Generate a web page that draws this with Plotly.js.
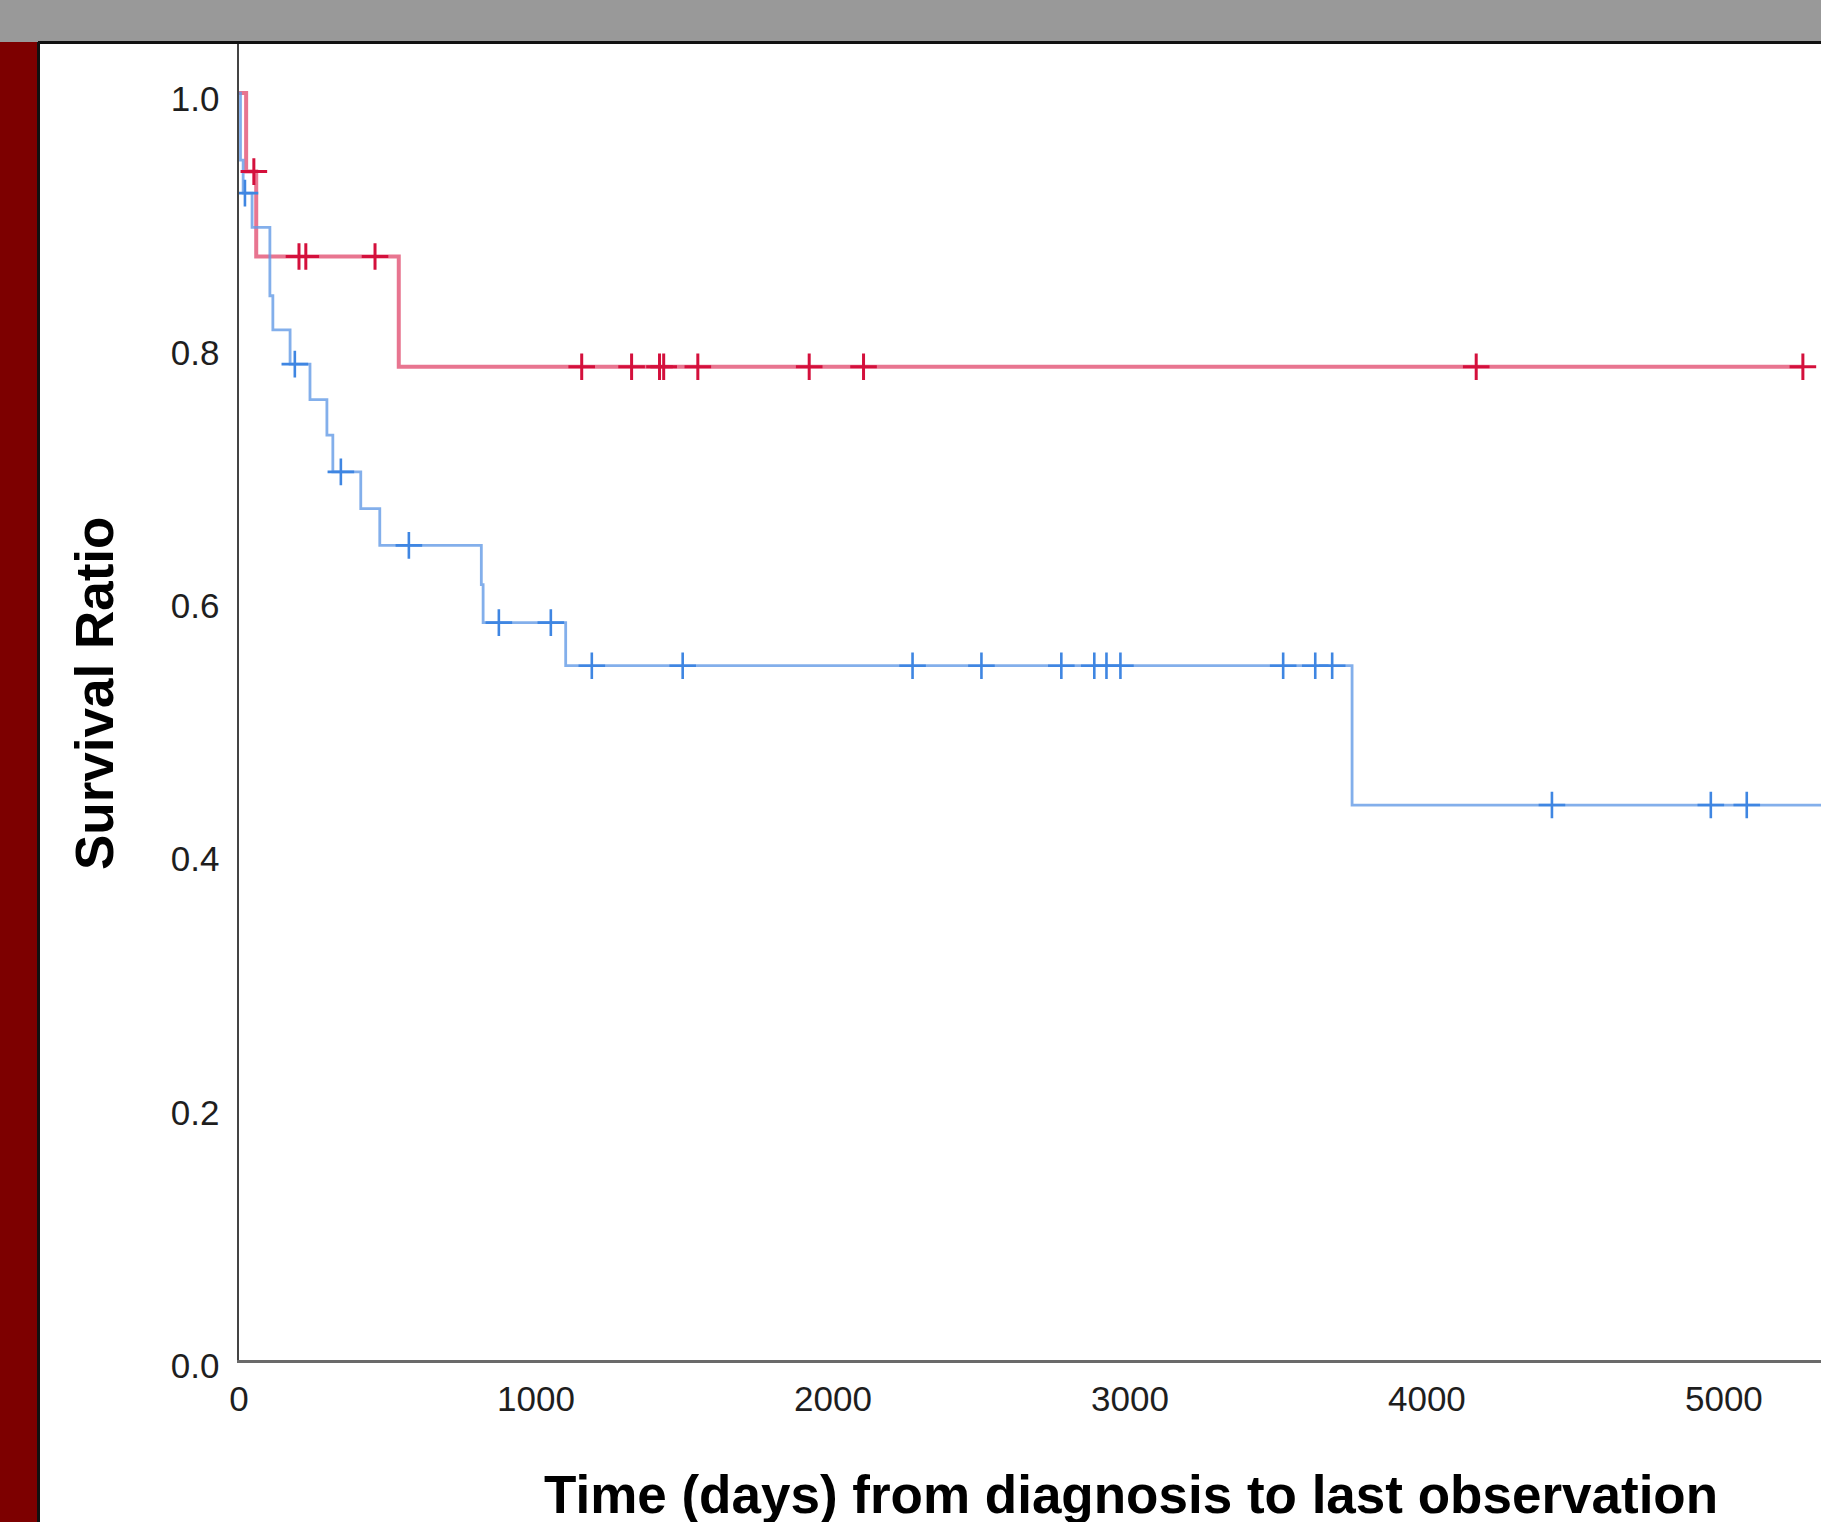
<!DOCTYPE html>
<html>
<head>
<meta charset="utf-8">
<script src="https://cdn.plot.ly/plotly-3.0.1.min.js"></script>
<style>
  html, body { margin: 0; padding: 0; width: 1821px; height: 1522px; overflow: hidden; background: #ffffff; }
  #topband { position: absolute; left: 0; top: 0; width: 1821px; height: 42px; background: #999999; }
  #leftband { position: absolute; left: 0; top: 42px; width: 38px; height: 1480px; background: #7d0000; }
  #hline { position: absolute; left: 38px; top: 41px; width: 1783px; height: 3px; background: #111111; }
  #vline { position: absolute; left: 37px; top: 42px; width: 3px; height: 1480px; background: #111111; }
  #chart { position: absolute; left: 40px; top: 44px; width: 1781px; height: 1478px; }
</style>
</head>
<body>
<div id="topband"></div>
<div id="leftband"></div>
<div id="hline"></div>
<div id="vline"></div>
<div id="chart"></div>
<script>
// ---- Data (Kaplan-Meier style step curves) ----
// Group drawn in red
const redStepTimes = [0, 24, 58, 538, 5266];
const redStepSurv  = [1.000, 0.938, 0.871, 0.784, 0.784];
const redCensorTimes = [50, 202, 225, 458, 1154, 1322, 1416, 1430, 1545, 1920, 2103, 4166, 5266];

// Group drawn in blue
const blueStepTimes = [0, 5, 14, 44, 104, 114, 172, 239, 296, 316, 410, 474, 816, 822, 1100, 3748, 5400];
const blueStepSurv  = [1.000, 0.947, 0.921, 0.894, 0.840, 0.813, 0.786, 0.758, 0.730, 0.701, 0.672, 0.643, 0.612, 0.582, 0.548, 0.438, 0.438];
const blueCensorTimes = [20, 188, 343, 572, 875, 1050, 1188, 1494, 2268, 2500, 2769, 2880, 2921, 2968, 3516, 3624, 3681, 4421, 4956, 5077, 5400];

// Axis ticks
const xTickVals = [0, 1000, 2000, 3000, 4000, 5000];
const xTickText = ["0", "1000", "2000", "3000", "4000", "5000"];
const yTickVals = [0, 0.2, 0.4, 0.6, 0.8, 1.0];
const yTickText = ["0.0", "0.2", "0.4", "0.6", "0.8", "1.0"];

const xTitle = "Time (days) from diagnosis to last observation";
const yTitle = "Survival Ratio";

// survival value of a step curve at a given time (right-continuous)
function survAt(times, surv, t) {
  let s = surv[0];
  for (let i = 0; i < times.length; i++) {
    if (times[i] <= t) s = surv[i]; else break;
  }
  return s;
}

const RED_LINE = "rgba(226, 82, 116, 0.80)";
const RED_MARK = "#d4103c";
const BLUE_LINE = "rgba(100, 155, 230, 0.80)";
const BLUE_MARK = "#3f86e2";

const traces = [
  {
    x: redStepTimes, y: redStepSurv, type: "scatter", mode: "lines",
    line: { shape: "hv", color: RED_LINE, width: 4 }, hoverinfo: "skip", showlegend: false
  },
  {
    x: blueStepTimes, y: blueStepSurv, type: "scatter", mode: "lines",
    line: { shape: "hv", color: BLUE_LINE, width: 2.8 }, hoverinfo: "skip", showlegend: false
  },
  {
    x: redCensorTimes, y: redCensorTimes.map(t => survAt(redStepTimes, redStepSurv, t)),
    type: "scatter", mode: "markers",
    marker: { symbol: "cross-thin", size: 19, line: { color: RED_MARK, width: 3 } },
    hoverinfo: "skip", showlegend: false
  },
  {
    x: blueCensorTimes, y: blueCensorTimes.map(t => survAt(blueStepTimes, blueStepSurv, t)),
    type: "scatter", mode: "markers",
    marker: { symbol: "cross-thin", size: 19, line: { color: BLUE_MARK, width: 2.6 } },
    hoverinfo: "skip", showlegend: false
  }
];

const tickFont = { family: "Liberation Sans, Arial, sans-serif", size: 35, color: "#1e1e1e" };
const titleFont = { family: "Liberation Sans, Arial, sans-serif", size: 53, color: "#000000", weight: "bold" };

const layout = {
  width: 1781, height: 1478,
  margin: { l: 199, r: 0, t: 0, b: 162, pad: 0 },
  paper_bgcolor: "#ffffff", plot_bgcolor: "#ffffff",
  showlegend: false,
  xaxis: {
    range: [0, 5327], tickmode: "array", tickvals: xTickVals, ticktext: xTickText,
    ticks: "", showgrid: false, zeroline: false,
    showline: true, linecolor: "#6a6a6a", linewidth: 3,
    tickfont: tickFont, ticklabelstandoff: 6, automargin: false
  },
  yaxis: {
    range: [0, 1.0387], tickmode: "array", tickvals: yTickVals, ticktext: yTickText,
    ticks: "", showgrid: false, zeroline: false,
    showline: true, linecolor: "#444444", linewidth: 2.5,
    tickfont: tickFont, ticklabelstandoff: 10, ticklabelshift: 6, automargin: false
  },
  annotations: [
    {
      text: "<b>" + xTitle + "</b>", xref: "paper", yref: "paper",
      x: 0.5638, y: -0.102, xanchor: "center", yanchor: "middle", showarrow: false,
      font: titleFont
    },
    {
      text: "<b>" + yTitle + "</b>", xref: "paper", yref: "paper",
      x: -0.0917, y: 0.5068, xanchor: "center", yanchor: "middle", showarrow: false,
      textangle: -90, font: titleFont
    }
  ]
};

Plotly.newPlot("chart", traces, layout, { staticPlot: true, displayModeBar: false });
</script>
</body>
</html>
